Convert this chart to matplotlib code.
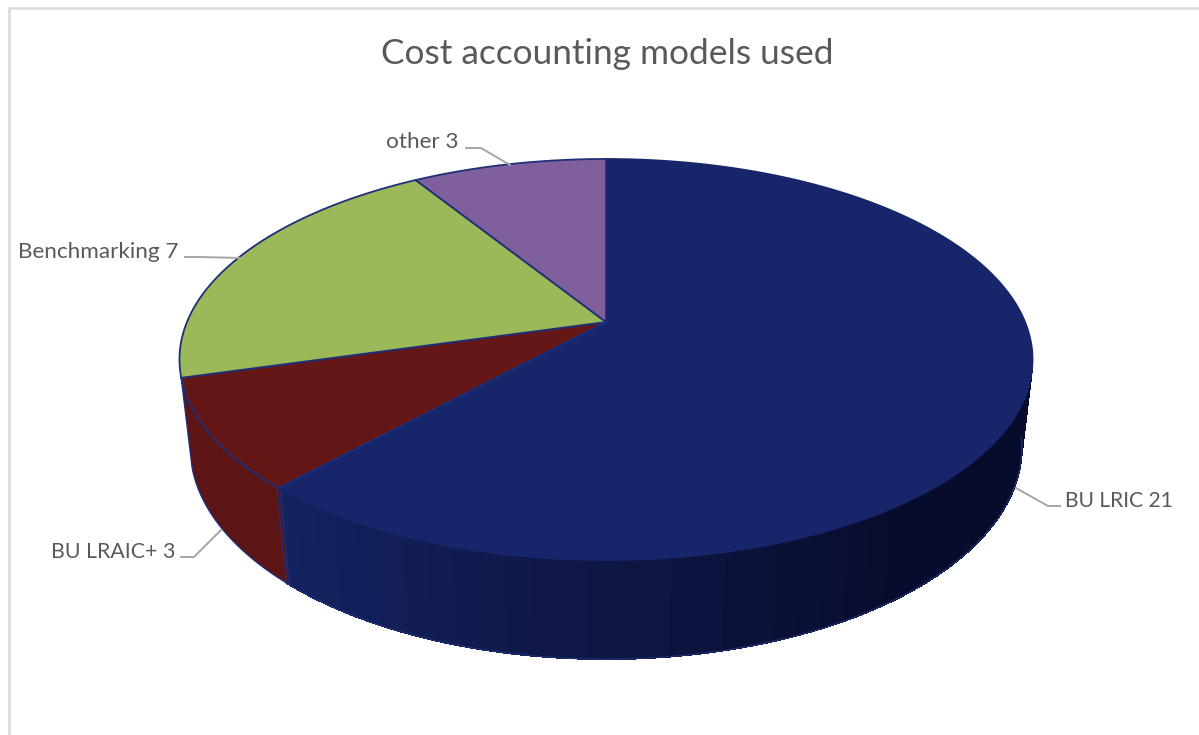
import numpy as np
import matplotlib
matplotlib.use('Agg')
import matplotlib.pyplot as plt
from matplotlib.patches import Polygon

plt.rcParams['font.family'] = ['Lato', 'DejaVu Sans']

# %%
title = "Cost accounting models used"
labels = ["BU LRIC", "BU LRAIC+", "Benchmarking", "other"]
values = [21, 3, 7, 3]
top_colors = ["#17266b", "#651717", "#9bb958", "#7f609c"]
top_edges = ["#17266b", "#1f2f78", "#1f2f78", "#1f2f78"]
wall_left = ["#14225f", "#5c1414"]
wall_right = ["#080c2c", "#581313"]
edge = "#1f2f78"
text_col = "#595959"
leader_col = "#a6a6a6"

# leader line and text anchor per label, in image pixels
leaders = [[(1016, 488), (1048, 506), (1060, 506)],
           [(221, 530), (194, 557), (181, 557)],
           [(241, 258), (200, 257), (185, 257)],
           [(510, 165), (481, 148), (466, 148)]]
anchors = [(1065, 501, 'left'), (175, 552, 'right'), (178, 252, 'right'), (459, 142, 'right')]
label_sizes = [15.1, 15.3, 16.2, 16.2]

# perspective of the pie, fitted on the picture
cx, cy = 606, 322
bx, by = 419, 193.5
k = 0.187
depth = 89
c = 0.025


def project(ang, low=False):
    u, v = np.cos(ang), np.sin(ang)
    if low:
        w = 1 + k * v + c
        return cx + bx * u / w, cy + (-by * v + depth) / w
    w = 1 + k * v
    return cx + bx * u / w, cy - by * v / w


def mix(c1, c2, t):
    a = np.array(matplotlib.colors.to_rgb(c1))
    b = np.array(matplotlib.colors.to_rgb(c2))
    return tuple(a + (b - a) * t)


# %%
fig = plt.figure(figsize=(11.99, 7.35), dpi=100)
ax = fig.add_axes([0, 0, 1, 1])
ax.set_xlim(0, 1199)
ax.set_ylim(735, 0)
ax.axis('off')

# chart frame
ax.plot([8.5, 8.5, 1199], [735, 7.5, 7.5], color="#d9d9d9", lw=1.8, solid_joinstyle='miter')

fracs = np.array(values) / sum(values) * 2 * np.pi
ends = np.pi / 2 - np.cumsum(fracs)
starts = np.concatenate([[np.pi / 2], ends[:-1]])

# side wall, only the two front slices show
a_blue = np.radians(-8)
a_cut = ends[0]
a_red = ends[1]
n = 40
grid = np.linspace(a_cut, a_blue, n + 1)
for i in range(n):
    a = np.linspace(grid[i], grid[i + 1], 4)
    x1, y1 = project(a)
    x2, y2 = project(a[::-1], low=True)
    col = mix(wall_left[0], wall_right[0], min(1, i / (n * 0.62)))
    ax.add_patch(Polygon(np.c_[np.r_[x1, x2], np.r_[y1, y2]], fc=col, ec=col, lw=0.6,
                         antialiased=False, zorder=2))

a = np.linspace(a_cut, a_red, 40)
x1, y1 = project(a)
x2, y2 = project(a[::-1], low=True)
ax.add_patch(Polygon(np.c_[np.r_[x1, x2], np.r_[y1, y2]], fc=wall_left[1], ec=edge, lw=1.0, zorder=3))

# outline along the lower rim of the blue wall
a = np.linspace(a_cut, a_blue, 120)
x2, y2 = project(a, low=True)
ax.plot(x2, y2, color=edge, lw=0.9, zorder=3)

# cut between the red and blue walls
x1, y1 = project(a_cut)
x2, y2 = project(a_cut, low=True)
ax.plot([x1 - 1.5, x2 - 1.5], [y1, y2], color=edge, lw=1.0, zorder=4)
ax.plot([x1 + 1.5, x2 + 1.5], [y1, y2], color=edge, lw=1.0, zorder=4)
ax.plot([x1, x2], [y1, y2], color=wall_right[1], lw=1.0, zorder=4)

# top face
order = [0, 1, 2, 3]
for i in order:
    a = np.linspace(starts[i], ends[i], 200)
    x, y = project(a)
    ax.add_patch(Polygon(np.c_[np.r_[cx, x], np.r_[cy, y]], fc=top_colors[i], ec=top_edges[i], lw=1.3,
                         joinstyle='round', zorder=5))

# labels
for name, val, pts, (tx, ty, ha), fs in zip(labels, values, leaders, anchors, label_sizes):
    px, py = zip(*pts)
    ax.plot(px, py, color=leader_col, lw=1.4, zorder=6)
    ax.text(tx, ty, f"{name} {val}", ha=ha, va='center', fontsize=fs, color=text_col, zorder=7)

ax.text(607, 54, title, ha='center', va='center', fontsize=25.4, color=text_col)

fig.savefig("out.png", dpi=100)
